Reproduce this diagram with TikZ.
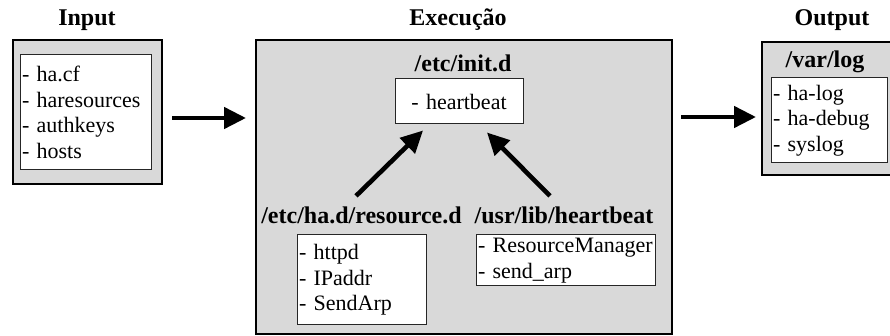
\documentclass[tikz,border=0pt]{standalone}
\usepackage{fontspec}
\setmainfont{Liberation Serif}
\usetikzlibrary{arrows.meta}

\tikzset{
  graybox/.style={draw=black, line width=1pt, fill=black!15, inner sep=0pt},
  listbox/.style={draw=black!85, line width=0.5pt, fill=white, inner sep=1pt,
    align=left, font=\fontsize{11}{12.75}\selectfont},
  head/.style={font=\fontsize{12}{14}\selectfont\bfseries, inner sep=0pt, anchor=base},
  bigarrow/.style={line width=2.3pt, -{Triangle[length=11pt,width=10.5pt]}}
}

\begin{document}
\begin{tikzpicture}[x=0.5pt,y=-0.5pt]
  \clip (0,0) rectangle (890,336);

  % Input
  \node[head] (intitle) at (87,26) {Input};
  \node[graybox, minimum width=74.5pt, minimum height=72pt] (inbox) at (87.5,112) {};
  \node[listbox, text width=63.5pt, minimum height=57.5pt] (inlist) at (85.5,112.5)
    {- ha.cf\\- haresources\\- authkeys\\- hosts};

  % Execucao
  \node[head] (extitle) at (458,26) {Execução};
  \node[graybox, minimum width=208pt, minimum height=147pt] (main) at (464,187) {};
  \node[head] (initl) at (463,72) {/etc/init.d};
  \node[listbox, align=center, text width=62pt, minimum height=22.5pt] (init) at (459,101.5)
    {- heartbeat};
  \node[head] (resl) at (361.5,224) {/etc/ha.d/resource.d};
  \node[listbox, text width=62.5pt, minimum height=45pt] (res) at (361.5,280)
    {- httpd\\- IPaddr\\- SendArp};
  \node[head] (libl) at (564,224) {/usr/lib/heartbeat};
  \node[listbox, text width=87.5pt, minimum height=25.5pt] (lib) at (565.5,260.5)
    {- ResourceManager\\- send\_arp};

  \draw[bigarrow] ([shift={(-5.5,-11)}]resl.north) -- ([shift={(-36,6)}]init.south);
  \draw[bigarrow] ([shift={(-14,-11)}]libl.north) -- ([shift={(28,8)}]init.south);

  % Output
  \node[head] (outtitle) at (832,26) {Output};
  \node[graybox, minimum width=67pt, minimum height=66.5pt] (outbox) at (829,108.5) {};
  \node[head] (varl) at (825,68) {/var/log};
  \node[listbox, text width=56pt, minimum height=42.5pt] (outlist) at (829,120.5)
    {- ha-log\\- ha-debug\\- syslog};

  \draw[bigarrow, shorten <=4.5pt, shorten >=4.5pt] (inbox.east |- 0,118) -- (main.west |- 0,118);
  \draw[bigarrow, shorten <=4pt, shorten >=2.5pt] (main.east |- 0,117) -- (outbox.west |- 0,117);
\end{tikzpicture}
\end{document}
